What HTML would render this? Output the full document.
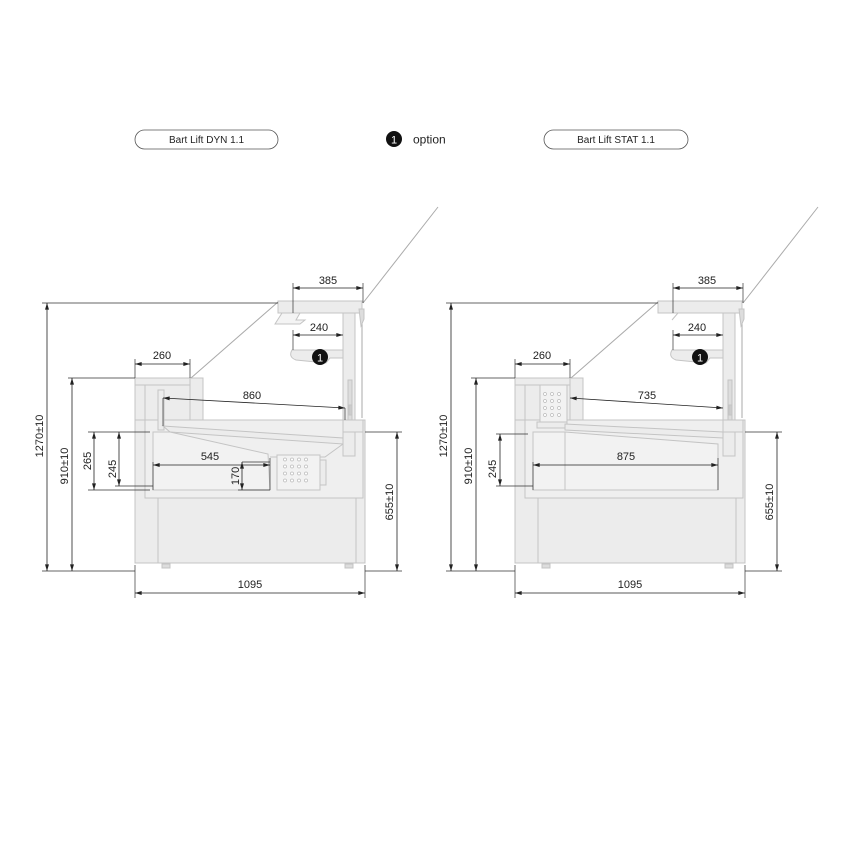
<!DOCTYPE html>
<html><head><meta charset="utf-8"><style>
html,body{margin:0;padding:0;background:#fff;}
svg{display:block;}
text{font-family:"Liberation Sans",sans-serif;fill:#222;}
</style></head><body>
<svg width="850" height="850" viewBox="0 0 850 850" xmlns="http://www.w3.org/2000/svg">
<defs>
<marker id="a" viewBox="0 0 10 6" refX="10" refY="3" markerWidth="7" markerHeight="4" orient="auto-start-reverse" markerUnits="userSpaceOnUse"><path d="M0,0 L10,3 L0,6 z" fill="#222"/></marker>
</defs>
<rect width="850" height="850" fill="#fff"/>

<!-- headers -->
<rect x="135" y="130" width="143" height="19" rx="9.5" fill="#fff" stroke="#555" stroke-width="0.8"/>
<text x="206.5" y="143" font-size="10" text-anchor="middle">Bart Lift DYN 1.1</text>
<rect x="544" y="130" width="144" height="19" rx="9.5" fill="#fff" stroke="#555" stroke-width="0.8"/>
<text x="616" y="143" font-size="10" text-anchor="middle">Bart Lift STAT 1.1</text>
<circle cx="394" cy="139" r="8" fill="#111"/>
<text x="394" y="143.5" font-size="11" text-anchor="middle" style="fill:#fff">1</text>
<text x="413" y="143.5" font-size="12">option</text>

<!-- common cabinet -->
<g id="cab" fill="#ececec" stroke="#c4c4c4" stroke-width="1">
  <rect x="135" y="420" width="230" height="143"/>
  <rect x="135" y="378" width="68" height="42"/>
  <rect x="145" y="385" width="45" height="113" fill="#ececec"/>
  <rect x="145" y="420" width="218" height="78" fill="#efefef"/>
  <line x1="158" y1="498" x2="158" y2="563"/>
  <line x1="356" y1="498" x2="356" y2="563"/>
  <rect x="135" y="378" width="55" height="7"/>
  <!-- rear column -->
  <rect x="343" y="313" width="12" height="143"/>
  <line x1="362" y1="305" x2="362" y2="418" stroke="#aaa"/>
  <rect x="348" y="380" width="4" height="40" fill="#ddd"/>
  <rect x="349" y="405" width="3" height="10" fill="#ccc"/>
  <rect x="343" y="420" width="20" height="12"/>
  <!-- canopy -->
  <rect x="278" y="301" width="84" height="12"/>
  <path d="M359,309 l5,0 l0,10 l-3,7 z" fill="#ddd"/>
  <!-- option shelf -->
  <path d="M292,350 L343,350 L343,358 L330,358 L326,363 L296,360 Q288,357 292,350 z"/>
  <!-- legs -->
  <rect x="162" y="564" width="8" height="4" fill="#ddd"/>
  <rect x="345" y="564" width="8" height="4" fill="#ddd"/>
</g>
<use href="#cab" transform="translate(380,0)"/>

<!-- glass lines -->
<g stroke="#aaa" stroke-width="1" fill="none">
  <line x1="191" y1="378" x2="278" y2="302"/>
  <line x1="363" y1="303" x2="438" y2="207"/>
  <line x1="571" y1="378" x2="658" y2="302"/>
  <line x1="743" y1="303" x2="818" y2="207"/>
</g>

<!-- left specific -->
<g fill="#ececec" stroke="#c4c4c4" stroke-width="1">
  <path d="M282,313 L300,313 L296,320 L305,320 L300,324 L275,324 z" fill="#f4f4f4"/>
  <rect x="158" y="390" width="6" height="40"/>
  <path d="M163,426 L343,438 L343,444 L170,432 z"/>
  <path d="M170,432 L268,454 L270,490 L153,490 L153,432 z" fill="#f2f2f2"/>
  <path d="M343,444 L325,457 L270,457" fill="none"/>
  <rect x="277" y="455" width="43" height="35" fill="#f2f2f2"/>
  <rect x="320" y="460" width="6" height="25"/>
</g>
<g fill="#fff" stroke="#bbb" stroke-width="0.7">
  <circle cx="285" cy="459.5" r="1.5"/><circle cx="292" cy="459.5" r="1.5"/><circle cx="299" cy="459.5" r="1.5"/><circle cx="306" cy="459.5" r="1.5"/>
  <circle cx="285" cy="466.5" r="1.5"/><circle cx="292" cy="466.5" r="1.5"/><circle cx="299" cy="466.5" r="1.5"/><circle cx="306" cy="466.5" r="1.5"/>
  <circle cx="285" cy="473.5" r="1.5"/><circle cx="292" cy="473.5" r="1.5"/><circle cx="299" cy="473.5" r="1.5"/><circle cx="306" cy="473.5" r="1.5"/>
  <circle cx="285" cy="480.5" r="1.5"/><circle cx="292" cy="480.5" r="1.5"/><circle cx="299" cy="480.5" r="1.5"/><circle cx="306" cy="480.5" r="1.5"/>
</g>

<!-- right specific -->
<g fill="#ececec" stroke="#c4c4c4" stroke-width="1">
  <path d="M662,313 L678,313 L672,320" fill="none"/>
  <rect x="540" y="385" width="27" height="37" fill="#f2f2f2"/>
  <rect x="537" y="422" width="30" height="6"/>
  <path d="M565,424 L723,432 L723,438 L565,430 z"/>
  <path d="M565,432 L718,444 L718,490 L533,490 L533,432 z" fill="#f2f2f2"/>
  <line x1="565" y1="432" x2="565" y2="490"/>
</g>
<g fill="#fff" stroke="#bbb" stroke-width="0.7">
  <circle cx="545" cy="394" r="1.5"/><circle cx="552" cy="394" r="1.5"/><circle cx="559" cy="394" r="1.5"/>
  <circle cx="545" cy="401" r="1.5"/><circle cx="552" cy="401" r="1.5"/><circle cx="559" cy="401" r="1.5"/>
  <circle cx="545" cy="408" r="1.5"/><circle cx="552" cy="408" r="1.5"/><circle cx="559" cy="408" r="1.5"/>
  <circle cx="545" cy="415" r="1.5"/><circle cx="552" cy="415" r="1.5"/><circle cx="559" cy="415" r="1.5"/>
</g>

<!-- option circles -->
<circle cx="320" cy="357" r="8" fill="#111"/>
<text x="320" y="361.5" font-size="11" text-anchor="middle" style="fill:#fff">1</text>
<circle cx="700" cy="357" r="8" fill="#111"/>
<text x="700" y="361.5" font-size="11" text-anchor="middle" style="fill:#fff">1</text>

<!-- extension lines -->
<g stroke="#333" stroke-width="0.7" fill="none">
  <line x1="42" y1="303" x2="278" y2="303"/>
  <line x1="42" y1="571" x2="135" y2="571"/>
  <line x1="68" y1="378" x2="135" y2="378"/>
  <line x1="88" y1="432" x2="150" y2="432"/>
  <line x1="88" y1="490" x2="150" y2="490"/>
  <line x1="115" y1="486" x2="153" y2="486"/>
  <line x1="365" y1="432" x2="402" y2="432"/>
  <line x1="365" y1="571" x2="402" y2="571"/>
  <line x1="135" y1="565" x2="135" y2="598"/>
  <line x1="365" y1="565" x2="365" y2="598"/>
  <line x1="135" y1="359" x2="135" y2="378"/>
  <line x1="190" y1="359" x2="190" y2="378"/>
  <line x1="293" y1="283" x2="293" y2="313"/>
  <line x1="363" y1="283" x2="363" y2="303"/>
  <line x1="293" y1="330" x2="293" y2="350"/>
  <line x1="163" y1="398" x2="163" y2="426"/>
  <line x1="345" y1="408" x2="345" y2="420"/>
  <line x1="242" y1="462" x2="270" y2="462"/>
  <line x1="153" y1="462" x2="153" y2="490"/>
  <line x1="270" y1="458" x2="270" y2="490"/>
  <line x1="238" y1="490" x2="270" y2="490"/>
  <!-- right -->
  <line x1="446" y1="303" x2="658" y2="303"/>
  <line x1="446" y1="571" x2="515" y2="571"/>
  <line x1="471" y1="378" x2="515" y2="378"/>
  <line x1="496" y1="434" x2="528" y2="434"/>
  <line x1="496" y1="486" x2="533" y2="486"/>
  <line x1="745" y1="432" x2="782" y2="432"/>
  <line x1="745" y1="571" x2="782" y2="571"/>
  <line x1="515" y1="565" x2="515" y2="598"/>
  <line x1="745" y1="565" x2="745" y2="598"/>
  <line x1="515" y1="359" x2="515" y2="378"/>
  <line x1="570" y1="359" x2="570" y2="378"/>
  <line x1="673" y1="283" x2="673" y2="313"/>
  <line x1="743" y1="283" x2="743" y2="303"/>
  <line x1="673" y1="330" x2="673" y2="350"/>
  <line x1="533" y1="462" x2="533" y2="490"/>
  <line x1="718" y1="458" x2="718" y2="490"/>
</g>

<!-- dimension lines -->
<g stroke="#222" stroke-width="0.8" fill="none" marker-start="url(#a)" marker-end="url(#a)">
  <line x1="47" y1="303" x2="47" y2="571"/>
  <line x1="72" y1="378" x2="72" y2="571"/>
  <line x1="94" y1="432" x2="94" y2="490"/>
  <line x1="119" y1="432" x2="119" y2="486"/>
  <line x1="397" y1="432" x2="397" y2="571"/>
  <line x1="135" y1="593" x2="365" y2="593"/>
  <line x1="135" y1="364" x2="190" y2="364"/>
  <line x1="293" y1="288" x2="363" y2="288"/>
  <line x1="293" y1="335" x2="343" y2="335"/>
  <line x1="163" y1="398" x2="345" y2="408"/>
  <line x1="153" y1="465" x2="270" y2="465"/>
  <line x1="242" y1="462" x2="242" y2="490"/>
  <!-- right -->
  <line x1="451" y1="303" x2="451" y2="571"/>
  <line x1="476" y1="378" x2="476" y2="571"/>
  <line x1="500" y1="434" x2="500" y2="486"/>
  <line x1="777" y1="432" x2="777" y2="571"/>
  <line x1="515" y1="593" x2="745" y2="593"/>
  <line x1="515" y1="364" x2="570" y2="364"/>
  <line x1="673" y1="288" x2="743" y2="288"/>
  <line x1="673" y1="335" x2="723" y2="335"/>
  <line x1="570" y1="398" x2="723" y2="408"/>
  <line x1="533" y1="465" x2="718" y2="465"/>
</g>

<!-- dimension text -->
<g font-size="11">
  <text x="250" y="588" text-anchor="middle">1095</text>
  <text x="162" y="359" text-anchor="middle">260</text>
  <text x="328" y="284" text-anchor="middle">385</text>
  <text x="319" y="331" text-anchor="middle">240</text>
  <text x="252" y="399" text-anchor="middle">860</text>
  <text x="210" y="460" text-anchor="middle">545</text>
  <text transform="translate(239,476) rotate(-90)" text-anchor="middle">170</text>
  <text transform="translate(91,461) rotate(-90)" text-anchor="middle">265</text>
  <text transform="translate(116,469) rotate(-90)" text-anchor="middle">245</text>
  <text transform="translate(68,466) rotate(-90)" text-anchor="middle">910±10</text>
  <text transform="translate(43,436) rotate(-90)" text-anchor="middle">1270±10</text>
  <text transform="translate(393,502) rotate(-90)" text-anchor="middle">655±10</text>

  <text x="630" y="588" text-anchor="middle">1095</text>
  <text x="542" y="359" text-anchor="middle">260</text>
  <text x="707" y="284" text-anchor="middle">385</text>
  <text x="697" y="331" text-anchor="middle">240</text>
  <text x="647" y="399" text-anchor="middle">735</text>
  <text x="626" y="460" text-anchor="middle">875</text>
  <text transform="translate(496,469) rotate(-90)" text-anchor="middle">245</text>
  <text transform="translate(472,466) rotate(-90)" text-anchor="middle">910±10</text>
  <text transform="translate(447,436) rotate(-90)" text-anchor="middle">1270±10</text>
  <text transform="translate(773,502) rotate(-90)" text-anchor="middle">655±10</text>
</g>
</svg>
</body></html>
